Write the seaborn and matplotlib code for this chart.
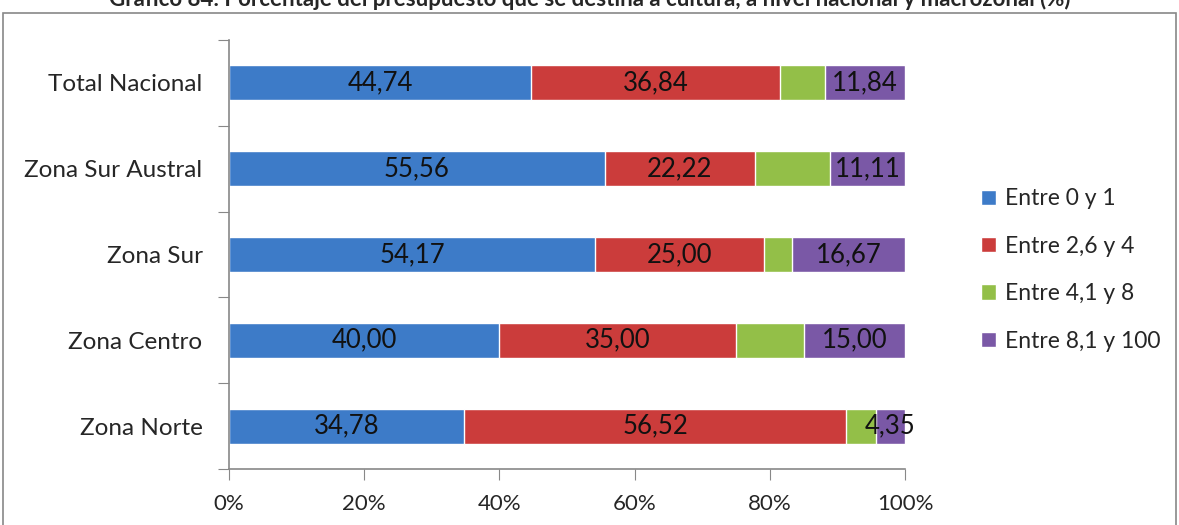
import numpy as np
import pandas as pd
import matplotlib
matplotlib.use("Agg")
import matplotlib.pyplot as plt
import seaborn as sns
from matplotlib.patches import Rectangle, Patch

# data
zonas = ["Total Nacional", "Zona Sur Austral", "Zona Sur", "Zona Centro", "Zona Norte"]
series = ["Entre 0 y 1", "Entre 2,6 y 4", "Entre 4,1 y 8", "Entre 8,1 y 100"]
entre_0_1 = [44.74, 55.56, 54.17, 40.00, 34.78]
entre_26_4 = [36.84, 22.22, 25.00, 35.00, 56.52]
entre_41_8 = [6.58, 11.11, 4.16, 10.00, 4.35]
entre_81_100 = [11.84, 11.11, 16.67, 15.00, 4.35]
show_label = [True, True, False, True]
colores = ["#3D7BC8", "#CB3C3B", "#93BF48", "#7A58A6"]

sns.set_style("white")
plt.rcParams["font.family"] = ["Lato", "DejaVu Sans"]

df = pd.DataFrame({"zona": zonas, series[0]: entre_0_1, series[1]: entre_26_4,
                   series[2]: entre_41_8, series[3]: entre_81_100})
vals = df[series].values
cum = vals.cumsum(axis=1)

fig = plt.figure(figsize=(11.79, 5.25), dpi=100)
ax = fig.add_axes([229 / 1179, 1 - 469 / 525, 676 / 1179, 429 / 525])

# stacked bars: draw cumulative totals back to front
for i in range(len(series) - 1, -1, -1):
    tmp = pd.DataFrame({"zona": zonas, "v": cum[:, i] / 100})
    sns.barplot(data=tmp, x="v", y="zona", color=colores[i], orient="h",
                width=0.41, ax=ax, saturation=1, order=zonas)

# value labels
for j in range(len(zonas)):
    for i in range(len(series)):
        if not show_label[i]:
            continue
        start = cum[j, i] - vals[j, i]
        centro = (start + cum[j, i]) / 2 / 100
        ax.text(centro, j, f"{vals[j, i]:.2f}".replace(".", ","), ha="center",
                va="center", fontsize=18.5, color="#111111")

ax.set_xlim(0, 1)
ax.set_ylim(len(zonas) - 0.5, -0.5)
ax.set_xticks(np.linspace(0, 1, 6))
ax.set_xticklabels([f"{int(t)}%" for t in np.linspace(0, 100, 6)], fontsize=16)
ax.set_yticks(np.arange(-0.5, len(zonas), 1), minor=False)
ax.set_yticklabels([])
ax.set_yticks(range(len(zonas)), minor=True)
ax.set_yticklabels(zonas, minor=True, fontsize=17.5)
ax.tick_params(axis="y", which="minor", length=0, pad=19)
ax.tick_params(axis="y", which="major", length=8, color="#888888", direction="out", left=True)
ax.tick_params(axis="x", length=8, color="#888888", direction="out", bottom=True, pad=10)
ax.set_xlabel("")
ax.set_ylabel("")
sns.despine(ax=ax, top=True, right=True)
for s in ["left", "bottom"]:
    ax.spines[s].set_color("#888888")
    ax.spines[s].set_linewidth(1.2)

handles = [Patch(facecolor=c, label=s) for c, s in zip(colores, series)]
fig.legend(handles=handles, loc="center left", bbox_to_anchor=(960 / 1179, 1 - 270 / 525),
           frameon=False, fontsize=16.5, handlelength=0.65, handleheight=0.65,
           handletextpad=0.4, labelspacing=1.15)

fig.add_artist(Rectangle((3 / 1179, -0.05), 1173 / 1179, 1.05 - 13 / 525,
                         transform=fig.transFigure, fill=False,
                         edgecolor="#888888", linewidth=1.2))
fig.text(0.5, 1 + 1 / 525, "Gráfico 84: Porcentaje del presupuesto que se destina a cultura, a nivel nacional y macrozonal (%)",
         ha="center", va="center", fontsize=16, fontweight="bold")

fig.savefig("out.png", dpi=100)
